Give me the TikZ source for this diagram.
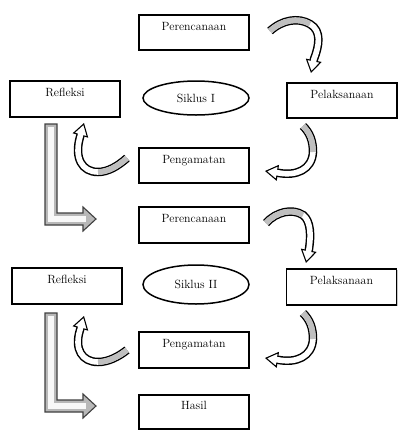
\documentclass[tikz,border=0pt]{standalone}
\usepackage{tikz}
\usetikzlibrary{arrows.meta,shapes.geometric,shadows}

\tikzset{
  kotak/.style={draw, line width=1.8pt, fill=white, minimum width=110pt,
    minimum height=35pt, inner sep=0pt, text height=8.5pt, text depth=13.5pt,
    font=\fontsize{11.9}{14}\selectfont,
    drop shadow={shadow xshift=1.2pt, shadow yshift=-1.4pt, opacity=.45}},
  lonjong/.style={draw, ellipse, line width=1.5pt, minimum width=106pt,
    minimum height=34pt, inner sep=0pt, font=\fontsize{11.9}{14}\selectfont},
  pita/.style={line width=8.5pt, shorten >=11pt},
  kepala/.style={line width=1.1pt, -{Triangle[width=16pt,length=13pt,fill=white]}},
  isiputih/.style={line width=5.6pt, white, shorten >=10pt},
  isiabu/.style={line width=5.6pt, black!25},
  siku/.style={line width=1.1pt, draw=black!75, fill=black!28},
  kilap/.style={line width=5.5pt, white, opacity=.9}
}

% panah lengkung: #1 bagian abu-abu, #2 sisa lengkungan, #3 ujung panah
\newcommand{\panahputar}[3]{%
  \draw[pita] #1 #2 -- #3;
  \draw[kepala] #1 #2 -- #3;
  \draw[isiputih] #1 #2 -- #3;
  \draw[isiabu] #1;
}

\begin{document}
\begin{tikzpicture}[x=1pt, y=-1pt]
    \useasboundingbox (0,0) rectangle (398,432);

    % Siklus I
    \node[kotak] (rencana1) at (194,32.5) {Perencanaan};
    \node[kotak, minimum height=36pt] (refleksi1) at (65,99) {Refleksi};
    \node[lonjong] (siklus1) at (196,98) {Siklus I};
    \node[kotak] (laksana1) at (342,100.5) {Pelaksanaan};
    \node[kotak] (amat1) at (194,165.5) {Pengamatan};

    % Siklus II
    \node[kotak, minimum height=36pt] (rencana2) at (194,225) {Perencanaan};
    \node[kotak, minimum height=36pt] (refleksi2) at (67,286) {Refleksi};
    \node[lonjong, minimum height=39pt] (siklus2) at (196,284.5) {Siklus II};
    \node[kotak, minimum height=36pt] (laksana2) at (341.5,287) {Pelaksanaan};
    \node[kotak, minimum height=36pt] (amat2) at (194,350) {Pengamatan};

    % Hasil
    \node[kotak, minimum height=34pt] (hasil) at (194,412) {Hasil};

    % ujung-ujung panah
    \coordinate (ekor1) at (270,31);   \coordinate (ujung1) at (311,73);
    \coordinate (ekor2) at (303,126);  \coordinate (ujung2) at (265,171);
    \coordinate (ekor3) at (127,158);  \coordinate (ujung3) at (84,123);
    \coordinate (ekor4) at (266,223);  \coordinate (ujung4) at (306,263);
    \coordinate (ekor5) at (303,313);  \coordinate (ujung5) at (265,358);
    \coordinate (ekor6) at (127,350);  \coordinate (ujung6) at (84,316);
    \coordinate (siku1) at (51,124);
    \coordinate (siku2) at (51,313);

    % Perencanaan -> Pelaksanaan -> Pengamatan -> Refleksi (I)
    \panahputar{(ekor1) .. controls (282,20) and (298,17) .. (310,24)}
      {.. controls (322,31) and (319,46) .. (314,59)}{(ujung1)}
    \panahputar{(ekor2) .. controls (310,133) and (313,141) .. (313,152)}
      {.. controls (312,170) and (296,176) .. (279,173)}{(ujung2)}
    \panahputar{(ekor3) .. controls (118,166) and (108,172) .. (98,172)}
      {.. controls (82,172) and (74,158) .. (80,137)}{(ujung3)}

    % Refleksi -> Perencanaan
    \draw[siku] (siku1) ++(-6,0) -- ++(12,0) -- ++(0,89) -- ++(26,0) -- ++(0,-6)
      -- ++(13,12) -- ++(-13,12) -- ++(0,-6) -- ++(-38,0) -- cycle;
    \draw[kilap] (siku1) ++(0,3) |- ++(35,92);

    % Perencanaan -> Pelaksanaan -> Pengamatan -> Refleksi (II)
    \panahputar{(ekor4) .. controls (276,212) and (292,208) .. (303,215)}
      {.. controls (311,221) and (311,236) .. (309,249)}{(ujung4)}
    \panahputar{(ekor5) .. controls (310,320) and (313,328) .. (313,339)}
      {.. controls (312,357) and (296,363) .. (279,360)}{(ujung5)}
    \panahputar{(ekor6) .. controls (118,357) and (108,362) .. (98,362)}
      {.. controls (82,362) and (74,349) .. (80,330)}{(ujung6)}

    % Refleksi -> Hasil
    \draw[siku] (siku2) ++(-6,0) -- ++(12,0) -- ++(0,87) -- ++(26,0) -- ++(0,-6)
      -- ++(13,12) -- ++(-13,12) -- ++(0,-6) -- ++(-38,0) -- cycle;
    \draw[kilap] (siku2) ++(0,3) |- ++(35,90);
\end{tikzpicture}
\end{document}
